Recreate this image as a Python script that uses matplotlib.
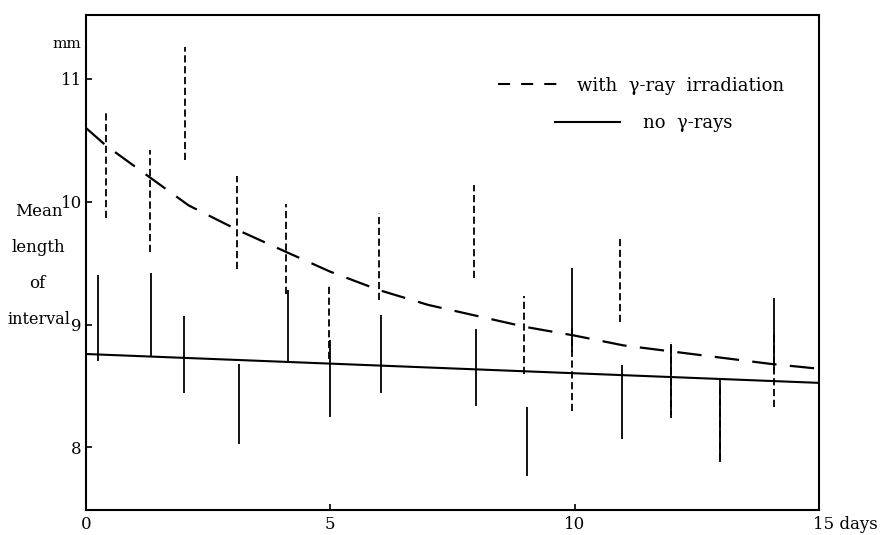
import matplotlib
matplotlib.use('Agg')
import matplotlib.pyplot as plt
import matplotlib.transforms as mtransforms
from matplotlib.lines import Line2D

plt.rcParams['font.family'] = ['DejaVu Serif']

# fitted curves
curve_days = [0, 0.4, 1.3, 2.1, 3.1, 4.1, 5, 6, 7, 8, 9, 10, 11, 12, 13, 14, 15]
curve_gamma = [10.60, 10.46, 10.20, 9.97, 9.77, 9.59, 9.43, 9.28, 9.16, 9.07,
               8.98, 8.91, 8.83, 8.78, 8.73, 8.68, 8.64]
line_days = [0, 15]
line_control = [8.76, 8.525]

# ranges with gamma-ray irradiation (dashed bars)
gamma_days = [0.4, 1.3, 2.03, 3.1, 4.1, 4.97, 6.0, 7.95, 8.96, 9.95, 10.93, 11.97, 12.97, 14.07]
gamma_hi = [10.73, 10.42, 11.26, 10.21, 9.98, 9.32, 9.91, 10.14, 9.23, 8.98, 9.72, 8.86, 8.50, 8.95]
gamma_lo = [9.87, 9.59, 10.34, 9.45, 9.25, 8.72, 9.20, 9.38, 8.60, 8.30, 9.02, 8.24, 7.90, 8.33]

# ranges without gamma-rays (solid bars)
control_days = [0.25, 1.32, 2.0, 3.13, 4.13, 5.0, 6.04, 7.98, 9.02, 9.95, 10.97, 11.97, 12.97, 14.07]
control_hi = [9.40, 9.42, 9.07, 8.68, 9.28, 8.87, 9.08, 8.96, 8.33, 9.46, 8.67, 8.84, 8.55, 9.22]
control_lo = [8.70, 8.74, 8.44, 8.03, 8.70, 8.25, 8.44, 8.34, 7.77, 8.78, 8.07, 8.26, 7.88, 8.62]

fig = plt.figure(figsize=(8.8, 5.35), dpi=100)
ax = fig.add_axes([86 / 880, 25 / 535, 733 / 880, 495 / 535])

ax.plot(curve_days, curve_gamma, color='black', lw=1.6, linestyle=(0, (11, 6)))
ax.plot(line_days, line_control, color='black', lw=1.5)
ax.vlines(control_days, control_lo, control_hi, color='black', lw=1.3)
ax.vlines(gamma_days, gamma_lo, gamma_hi, color='black', lw=1.3, linestyles=[(0, (4, 2))])

ax.set_xlim(0, 15)
ax.set_ylim(7.49, 11.52)
ax.set_xticks([0, 5, 10, 15])
ax.set_xticklabels(['0', '5', '10', '15 days'])
ax.set_yticks([8, 9, 10, 11])
ax.tick_params(direction='in', length=4, width=1.2, labelsize=12, pad=4)
ax.tick_params(axis='y', pad=3)
last = ax.get_xticklabels()[-1]
last.set_ha('left')
last.set_transform(last.get_transform() + mtransforms.ScaledTranslation(-0.06, 0, fig.dpi_scale_trans))
for s in ax.spines.values():
    s.set_linewidth(1.5)

h1 = Line2D([], [], color='black', lw=1.5, linestyle=(0, (5.8, 5.3)))
h2 = Line2D([], [], color='black', lw=1.5)
leg1 = ax.legend([h1], ['with  γ-ray  irradiation'], loc='center left',
                 bbox_to_anchor=(0.562, 0.857), frameon=False, fontsize=13,
                 handlelength=3.3, handletextpad=1.1, borderpad=0, borderaxespad=0)
ax.add_artist(leg1)
ax.legend([h2], ['no  γ-rays'], loc='center left',
          bbox_to_anchor=(0.640, 0.782), frameon=False, fontsize=13,
          handlelength=3.6, handletextpad=1.25, borderpad=0, borderaxespad=0)

def px(x, y):
    return x / 880, 1 - y / 535

fig.text(*px(67, 44), 'mm', fontsize=11, ha='center', va='center')
fig.text(*px(39, 211), 'Mean', fontsize=12, ha='center', va='center')
fig.text(*px(38, 248), 'length', fontsize=12, ha='center', va='center')
fig.text(*px(37, 283), 'of', fontsize=12, ha='center', va='center')
fig.text(*px(39, 320), 'interval', fontsize=11.5, ha='center', va='center')

fig.savefig('out.png', dpi=100)
